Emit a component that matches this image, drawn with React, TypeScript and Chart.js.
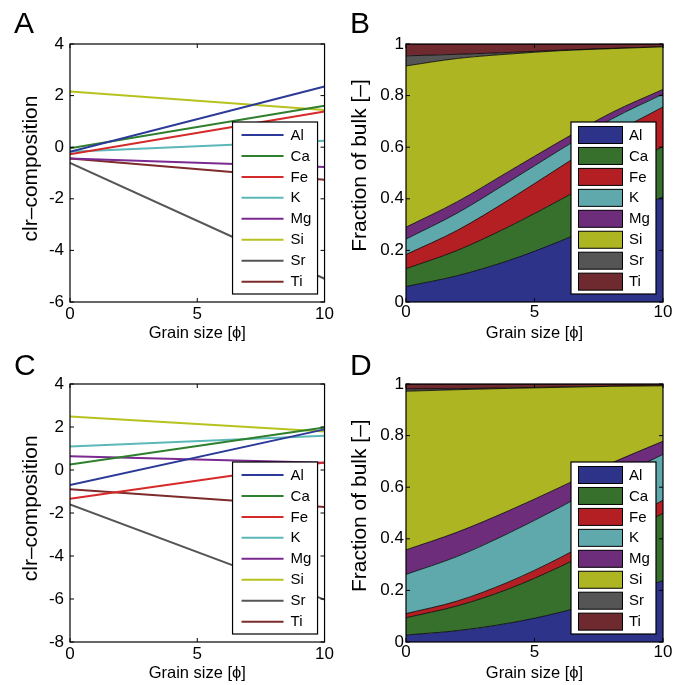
import { useEffect, useRef } from "react";
import { Chart, registerables } from "chart.js";

Chart.register(...registerables);

const FONT = '"Liberation Sans", Arial, Helvetica, sans-serif';

// ---------- data ----------
const elements = ["Al", "Ca", "Fe", "K", "Mg", "Si", "Sr", "Ti"];

// panel A / C: clr composition at grain size 0 and 10 (phi)
const lineGrainSize = [0, 10];
const clrA_Al = [-0.18, 2.35];
const clrA_Ca = [-0.04, 1.61];
const clrA_Fe = [-0.27, 1.38];
const clrA_K = [-0.18, 0.25];
const clrA_Mg = [-0.44, -0.77];
const clrA_Si = [2.16, 1.44];
const clrA_Sr = [-0.61, -5.1];
const clrA_Ti = [-0.44, -1.26];

const clrC_Al = [-0.7, 1.89];
const clrC_Ca = [0.25, 1.98];
const clrC_Fe = [-1.34, 0.35];
const clrC_K = [1.09, 1.59];
const clrC_Mg = [0.64, 0.34];
const clrC_Si = [2.49, 1.79];
const clrC_Sr = [-1.6, -6.03];
const clrC_Ti = [-0.9, -1.72];

// panel B / D: fraction of bulk
const areaGrainSize = [0, 2, 4, 6, 8, 10];
const fracB_Al = [0.06, 0.102, 0.161, 0.236, 0.321, 0.408];
const fracB_Ca = [0.069, 0.098, 0.131, 0.16, 0.183, 0.194];
const fracB_Fe = [0.055, 0.078, 0.104, 0.127, 0.145, 0.154];
const fracB_K = [0.06, 0.067, 0.07, 0.067, 0.06, 0.05];
const fracB_Mg = [0.046, 0.044, 0.04, 0.033, 0.025, 0.018];
const fracB_Si = [0.625, 0.555, 0.455, 0.351, 0.248, 0.165];
const fracB_Sr = [0.039, 0.016, 0.006, 0.002, 0.001, 0.0];
const fracB_Ti = [0.046, 0.04, 0.033, 0.024, 0.017, 0.011];

const fracD_Al = [0.027, 0.044, 0.073, 0.115, 0.171, 0.238];
const fracD_Ca = [0.067, 0.096, 0.133, 0.177, 0.222, 0.261];
const fracD_Fe = [0.016, 0.019, 0.027, 0.035, 0.044, 0.051];
const fracD_K = [0.152, 0.173, 0.189, 0.196, 0.192, 0.177];
const fracD_Mg = [0.095, 0.094, 0.087, 0.077, 0.065, 0.051];
const fracD_Si = [0.615, 0.552, 0.474, 0.387, 0.297, 0.215];
const fracD_Sr = [0.009, 0.004, 0.002, 0.001, 0.0, 0.0];
const fracD_Ti = [0.019, 0.018, 0.015, 0.012, 0.009, 0.007];

const clrA = [clrA_Al, clrA_Ca, clrA_Fe, clrA_K, clrA_Mg, clrA_Si, clrA_Sr, clrA_Ti];
const clrC = [clrC_Al, clrC_Ca, clrC_Fe, clrC_K, clrC_Mg, clrC_Si, clrC_Sr, clrC_Ti];
const fracB = [fracB_Al, fracB_Ca, fracB_Fe, fracB_K, fracB_Mg, fracB_Si, fracB_Sr, fracB_Ti];
const fracD = [fracD_Al, fracD_Ca, fracD_Fe, fracD_K, fracD_Mg, fracD_Si, fracD_Sr, fracD_Ti];

const lineColors = ["#2b3a98", "#2e7f2e", "#d62a2a", "#5cb8b8", "#7a2a90", "#b8c21e", "#555555", "#7d2b2b"];
const fillColors = ["#2e338a", "#37702c", "#b41f24", "#5fa9ad", "#6d2d7b", "#adb523", "#555555", "#6e2a2f"];

// ---------- decoration plugin (box, inward ticks, legend, letter, y title) ----------
const decorPlugin = {
  id: "panelDecor",
  afterDatasetsDraw(chart: any, _args: any, opts: any) {
    const { ctx, chartArea: a } = chart;
    ctx.save();
    // legend
    const W = 85;
    const H = 172;
    const lx = a.right - 7 - W;
    const ly = a.bottom - 8 - H;
    ctx.fillStyle = "#fff";
    ctx.fillRect(lx, ly, W, H);
    ctx.lineWidth = 1.2;
    ctx.strokeStyle = "#000";
    ctx.strokeRect(lx, ly, W, H);
    chart.data.datasets.forEach((ds: any, i: number) => {
      const cy = ly + 13 + i * 20.95;
      if (opts.kind === "line") {
        ctx.strokeStyle = ds.borderColor;
        ctx.lineWidth = 2;
        ctx.beginPath();
        ctx.moveTo(lx + 9, cy);
        ctx.lineTo(lx + 51, cy);
        ctx.stroke();
      } else {
        ctx.fillStyle = ds.backgroundColor;
        ctx.fillRect(lx + 7.5, cy - 8.5, 44, 17);
        ctx.strokeStyle = "#000";
        ctx.lineWidth = 1;
        ctx.strokeRect(lx + 7.5, cy - 8.5, 44, 17);
      }
      ctx.fillStyle = "#000";
      ctx.font = `15px ${FONT}`;
      ctx.textBaseline = "middle";
      ctx.textAlign = "left";
      ctx.fillText(ds.label, lx + 58, cy + 0.5);
    });
    // axes box
    ctx.strokeStyle = "#000";
    ctx.lineWidth = 1.2;
    ctx.strokeRect(a.left, a.top, a.right - a.left, a.bottom - a.top);
    // inward ticks
    const xs = chart.scales.x;
    const ys = chart.scales.y;
    ctx.lineWidth = 1;
    ctx.beginPath();
    xs.ticks.forEach((t: any) => {
      const p = xs.getPixelForValue(t.value);
      ctx.moveTo(p, a.bottom);
      ctx.lineTo(p, a.bottom - 4);
      ctx.moveTo(p, a.top);
      ctx.lineTo(p, a.top + 4);
    });
    ys.ticks.forEach((t: any) => {
      const p = ys.getPixelForValue(t.value);
      ctx.moveTo(a.left, p);
      ctx.lineTo(a.left + 4, p);
      ctx.moveTo(a.right, p);
      ctx.lineTo(a.right - 4, p);
    });
    ctx.stroke();
    // panel letter
    ctx.fillStyle = "#000";
    ctx.font = `30px ${FONT}`;
    ctx.textAlign = "left";
    ctx.textBaseline = "alphabetic";
    ctx.fillText(opts.letter, opts.letterX, opts.letterY);
    // y title
    ctx.translate(opts.yTitleX, opts.yTitleY);
    ctx.rotate(-Math.PI / 2);
    ctx.font = `21px ${FONT}`;
    ctx.textAlign = "center";
    ctx.textBaseline = "alphabetic";
    ctx.fillText(opts.yTitle, 0, 0);
    ctx.restore();
  },
};

type PanelSpec = {
  kind: "line" | "area";
  series: number[][];
  xs: number[];
  yMin: number;
  yMax: number;
  yStep: number;
  letter: string;
  letterY: number;
  yTitle: string;
  yTitleX: number;
  yTitleY: number;
  yPad: number;
  xPad: number;
};

const fmtTick = (v: any) => String(Number(Number(v).toFixed(3)));

function makeConfig(p: PanelSpec): any {
  const datasets = p.series.map((vals, i) => {
    const data = p.xs.map((x, j) => ({ x, y: vals[j] }));
    if (p.kind === "line") {
      return {
        label: elements[i],
        data,
        borderColor: lineColors[i],
        backgroundColor: lineColors[i],
        borderWidth: 2,
        pointRadius: 0,
        fill: false,
        tension: 0,
      };
    }
    return {
      label: elements[i],
      data,
      borderColor: "#000",
      backgroundColor: fillColors[i],
      borderWidth: 0.8,
      pointRadius: 0,
      fill: i === 0 ? "origin" : "-1",
      cubicInterpolationMode: "monotone",
    };
  });
  return {
    type: "line",
    data: { datasets },
    plugins: [decorPlugin],
    options: {
      animation: false,
      responsive: false,
      maintainAspectRatio: false,
      layout: { padding: { top: 44, right: 10, left: 0, bottom: 0 } },
      plugins: {
        legend: { display: false },
        tooltip: { enabled: false },
        panelDecor: {
          kind: p.kind,
          letter: p.letter,
          letterX: 14,
          letterY: p.letterY,
          yTitle: p.yTitle,
          yTitleX: p.yTitleX,
          yTitleY: p.yTitleY,
        },
      },
      scales: {
        x: {
          type: "linear",
          min: 0,
          max: 10,
          ticks: { stepSize: 5, color: "#000", font: { family: FONT, size: 17 }, padding: p.xPad, maxRotation: 0, callback: fmtTick },
          grid: { display: false, drawTicks: false },
          border: { display: false },
          title: {
            display: true,
            text: "Grain size [ϕ]",
            color: "#000",
            font: { family: FONT, size: 16.5 },
            padding: { top: 0, bottom: 2 },
          },
          afterFit: (s: any) => {
            s.height = 43;
          },
        },
        y: {
          type: "linear",
          min: p.yMin,
          max: p.yMax,
          stacked: p.kind === "area",
          ticks: { stepSize: p.yStep, color: "#000", font: { family: FONT, size: 17 }, padding: p.yPad, callback: fmtTick },
          grid: { display: false, drawTicks: false },
          border: { display: false },
          afterFit: (s: any) => {
            s.width = 70;
          },
        },
      },
    },
  };
}

function Panel({ spec, left, top, width, height }: { spec: PanelSpec; left: number; top: number; width: number; height: number }) {
  const ref = useRef<HTMLCanvasElement>(null);
  useEffect(() => {
    const chart = new Chart(ref.current as HTMLCanvasElement, makeConfig(spec));
    return () => chart.destroy();
  }, []);
  return (
    <canvas
      ref={ref}
      width={width}
      height={height}
      style={{ position: "absolute", left, top, width, height }}
    />
  );
}

const specA: PanelSpec = {
  kind: "line", series: clrA, xs: lineGrainSize, yMin: -6, yMax: 4, yStep: 2,
  letter: "A", letterY: 33, yTitle: "clr–composition", yTitleX: 37, yTitleY: 168.5, yPad: 6, xPad: 2,
};
const specB: PanelSpec = {
  kind: "area", series: fracB, xs: areaGrainSize, yMin: 0, yMax: 1, yStep: 0.2,
  letter: "B", letterY: 33, yTitle: "Fraction of bulk [–]", yTitleX: 30, yTitleY: 165.5, yPad: 2, xPad: 0,
};
const specC: PanelSpec = {
  kind: "line", series: clrC, xs: lineGrainSize, yMin: -8, yMax: 4, yStep: 2,
  letter: "C", letterY: 35, yTitle: "clr–composition", yTitleX: 37, yTitleY: 168.3, yPad: 6, xPad: 2,
};
const specD: PanelSpec = {
  kind: "area", series: fracD, xs: areaGrainSize, yMin: 0, yMax: 1, yStep: 0.2,
  letter: "D", letterY: 35, yTitle: "Fraction of bulk [–]", yTitleX: 30, yTitleY: 165.7, yPad: 2, xPad: 0,
};

export default function App() {
  return (
    <div style={{ position: "absolute", left: 0, top: 0, width: 673, height: 685, background: "#fff", overflow: "hidden" }}>
      <Panel spec={specA} left={0} top={0} width={336} height={345} />
      <Panel spec={specB} left={336} top={0} width={337} height={345} />
      <Panel spec={specC} left={0} top={340} width={336} height={345} />
      <Panel spec={specD} left={336} top={340} width={337} height={345} />
    </div>
  );
}
